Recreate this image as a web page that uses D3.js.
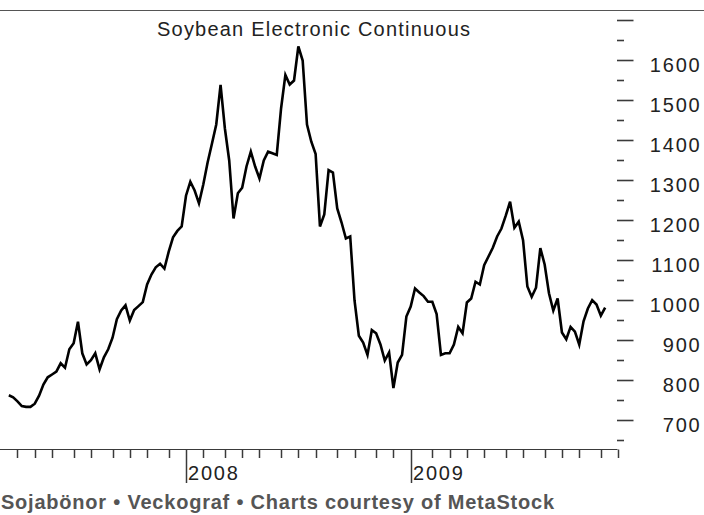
<!DOCTYPE html>
<html>
<head>
<meta charset="utf-8">
<script src="https://cdn.jsdelivr.net/npm/d3@7"></script>
<style>
body { margin: 0; background: #fff; }
text { font-family: Arial, "Liberation Sans", sans-serif; }
</style>
</head>
<body>
<svg id="chart" width="704" height="515"></svg>
<script>
// weekly closes (cents/bushel), first bar on Friday 2007-03-23
const firstBar = "2007-03-23";
const weeklyClose = [
  763, 758, 748, 736, 734, 734, 742, 762, 790, 808, 815, 822, 843, 832, 878, 893,
  947, 868, 840, 851, 868, 828, 858, 878, 907, 953, 975, 988, 950, 976, 986, 996,
  1040, 1065, 1083, 1092, 1080, 1122, 1158, 1174, 1185,
  // 2008
  1262, 1297, 1275, 1243, 1290, 1345, 1392, 1440, 1539, 1430, 1350, 1205, 1268,
  1282, 1335, 1372, 1335, 1305, 1350, 1372, 1368, 1364, 1480, 1564, 1540, 1550,
  1635, 1600, 1440, 1397, 1366, 1185, 1215, 1326, 1320, 1230, 1195, 1155, 1160,
  1000, 912, 895, 864, 926, 918, 890, 850, 870, 781, 845, 864, 960,
  // 2009
  985, 1030, 1020, 1011, 997, 997, 966, 864, 868, 868, 890, 934, 918, 995, 1005,
  1047, 1040, 1088, 1110, 1132, 1160, 1180, 1212, 1247, 1182, 1197, 1151, 1035,
  1009, 1032, 1131, 1090, 1018, 975, 1005, 920, 903, 934, 922, 890, 948, 980,
  1001, 990, 962, 982
];
const priceTicks = d3.range(650, 1701, 50);
const priceLabels = [700, 800, 900, 1000, 1100, 1200, 1300, 1400, 1500, 1600];
const monthStarts = d3.timeMonth.range(new Date(2007, 3, 1), new Date(2010, 0, 1));
const chartTitle = "Soybean Electronic Continuous";
const footer = "Sojabönor \u2022 Veckograf \u2022 Charts courtesy of MetaStock";

const parse = d3.timeParse("%Y-%m-%d");
const start = parse(firstBar);
const data = weeklyClose.map((v, i) => ({ date: d3.timeDay.offset(start, 7 * i), value: v }));

const svg = d3.select("#chart");

const x = d3.scaleTime()
    .domain([new Date(2008, 0, 4), new Date(2009, 0, 2)])
    .range([186, 410.7]);
const y = d3.scaleLinear()
    .domain([1600, 700])
    .range([60.5, 420.5]);

const ink = "#3a3a3a";

// top rule
svg.append("line")
    .attr("x1", 0).attr("x2", 704)
    .attr("y1", 10.5).attr("y2", 10.5)
    .attr("stroke", "#555").attr("stroke-width", 1);

// title
svg.append("text")
    .attr("x", 157).attr("y", 36)
    .attr("textLength", 313).attr("lengthAdjust", "spacing")
    .style("font-size", "20px")
    .attr("fill", "#222")
    .text(chartTitle);

// bottom axis
const axisY = 449.5;
svg.append("line")
    .attr("x1", 0).attr("x2", 617.5)
    .attr("y1", axisY).attr("y2", axisY)
    .attr("stroke", ink).attr("stroke-width", 1.2);

const monthTicks = monthStarts.map(m => ({ month: m, bar: d3.timeFriday.ceil(m) }));
svg.append("g").selectAll("line")
    .data(monthTicks)
    .join("line")
    .attr("x1", d => Math.round(x(d.bar)) + 0.5)
    .attr("x2", d => Math.round(x(d.bar)) + 0.5)
    .attr("y1", axisY)
    .attr("y2", d => d.month.getMonth() === 0 ? 483 : 458)
    .attr("stroke", ink).attr("stroke-width", 1.5);

svg.append("g").selectAll("text")
    .data(monthTicks.filter(d => d.month.getMonth() === 0))
    .join("text")
    .attr("x", d => Math.round(x(d.bar)) + 2)
    .attr("y", 480)
    .style("font-size", "20px")
    .style("letter-spacing", "1.8px")
    .attr("fill", "#222")
    .text(d => d3.timeFormat("%Y")(d.month));

// right axis
svg.append("g").selectAll("line")
    .data(priceTicks)
    .join("line")
    .attr("x1", 617)
    .attr("x2", d => d % 100 === 0 ? 633.5 : 624)
    .attr("y1", d => y(d)).attr("y2", d => y(d))
    .attr("stroke", ink).attr("stroke-width", 1.6);

svg.append("g").selectAll("text")
    .data(priceLabels)
    .join("text")
    .attr("x", 701.5)
    .attr("y", d => y(d) + 11)
    .attr("text-anchor", "end")
    .style("font-size", "20px")
    .style("letter-spacing", "1.8px")
    .attr("fill", "#222")
    .text(d => d);

// price line
const line = d3.line()
    .x(d => x(d.date))
    .y(d => y(d.value));

svg.append("path")
    .datum(data)
    .attr("d", line)
    .attr("fill", "none")
    .attr("stroke", "#000")
    .attr("stroke-width", 2.6)
    .attr("stroke-linejoin", "miter");

// footer
svg.append("text")
    .attr("x", 1).attr("y", 509)
    .attr("textLength", 553).attr("lengthAdjust", "spacing")
    .style("font-size", "20px")
    .style("font-weight", "bold")
    .attr("fill", "#555")
    .text(footer);
</script>
</body>
</html>
